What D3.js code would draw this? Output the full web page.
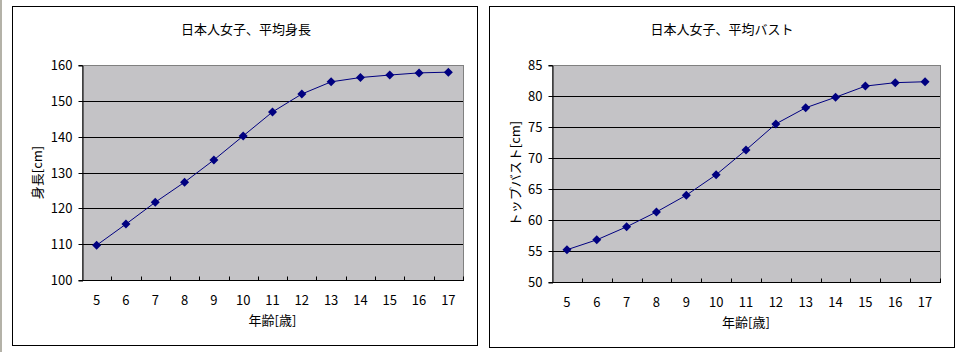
<!DOCTYPE html>
<html>
<head>
<meta charset="utf-8">
<script src="https://cdn.jsdelivr.net/npm/d3@7"></script>
<style>
  body { margin: 0; background: #fff; }
  svg text { font-family: "Noto Sans CJK JP", "Noto Sans", sans-serif; fill: #000; }
</style>
</head>
<body>
<div id="chart-container"></div>
<script>
// Chart data
const ages = ['5', '6', '7', '8', '9', '10', '11', '12', '13', '14', '15', '16', '17'];
const heightValues = [109.7, 115.6, 121.7, 127.3, 133.5, 140.2, 146.9, 151.9, 155.3, 156.5, 157.2, 157.8, 158.0];
const bustValues = [55.2, 56.8, 58.9, 61.3, 64.0, 67.3, 71.3, 75.5, 78.1, 79.8, 81.6, 82.15, 82.3];
const heightTicks = [100, 110, 120, 130, 140, 150, 160];
const bustTicks = [50, 55, 60, 65, 70, 75, 80, 85];

const svgWidth = 965;
const svgHeight = 352;

const svg = d3.select('#chart-container')
  .append('svg')
  .attr('width', svgWidth)
  .attr('height', svgHeight);

// thin gray strip at the left edge
svg.append('rect')
  .attr('x', 0).attr('y', 0)
  .attr('width', 2).attr('height', svgHeight)
  .attr('fill', '#b4b2a8');

// Draw one chart panel
function drawChart(opts) {
  const g = svg.append('g');

  // outer frame
  g.append('rect')
    .attr('x', opts.frame[0] + 0.5).attr('y', opts.frame[1] + 0.5)
    .attr('width', opts.frame[2]).attr('height', opts.frame[3])
    .attr('fill', '#fff').attr('stroke', '#000').attr('stroke-width', 1);

  const p = opts.plot; // [x, y, w, h]
  const xScale = d3.scaleBand().domain(ages).range([p[0], p[0] + p[2]]);
  const yScale = d3.scaleLinear().domain(opts.domain).range([p[1] + p[3], p[1]]);

  // plot area
  g.append('rect')
    .attr('x', p[0] + 0.5).attr('y', p[1] + 0.5)
    .attr('width', p[2]).attr('height', p[3])
    .attr('fill', '#c4c3c6').attr('stroke', '#808080');

  // horizontal gridlines
  g.selectAll('.grid')
    .data(opts.ticks.slice(1, -1))
    .enter()
    .append('line')
    .attr('x1', p[0]).attr('x2', p[0] + p[2])
    .attr('y1', d => Math.round(yScale(d)) + 0.5)
    .attr('y2', d => Math.round(yScale(d)) + 0.5)
    .attr('stroke', '#000');

  // Y axis
  const yAxis = g.append('g')
    .attr('transform', 'translate(' + (p[0] + 0.5) + ',0.5)')
    .call(d3.axisLeft(yScale).tickValues(opts.ticks).tickSize(4).tickPadding(6));
  yAxis.select('.domain').attr('stroke', '#000');
  yAxis.selectAll('line').attr('stroke', '#000');
  yAxis.selectAll('text').style('font-size', '13px').attr('dy', '0.35em');
  yAxis.selectAll('.tick').attr('transform', d => 'translate(0,' + Math.round(yScale(d)) + ')');

  // X axis (ticks at band boundaries, pointing up)
  const xBase = Math.round(p[1] + p[3]) + 0.5;
  g.append('line')
    .attr('x1', p[0]).attr('x2', p[0] + p[2] + 1)
    .attr('y1', xBase).attr('y2', xBase)
    .attr('stroke', '#000');
  g.selectAll('.xtick')
    .data(ages.slice(1).concat(['end']))
    .enter()
    .append('line')
    .attr('x1', (d, i) => Math.round(xScale(ages[i]) + xScale.bandwidth()) + 0.5)
    .attr('x2', (d, i) => Math.round(xScale(ages[i]) + xScale.bandwidth()) + 0.5)
    .attr('y1', xBase).attr('y2', xBase - 4)
    .attr('stroke', '#000');
  g.selectAll('.xlabel')
    .data(ages)
    .enter()
    .append('text')
    .attr('x', d => xScale(d) + xScale.bandwidth() / 2)
    .attr('y', xBase + 24)
    .attr('text-anchor', 'middle')
    .style('font-size', '13px')
    .text(d => d);

  // line + markers
  const pts = ages.map((a, i) => ({ a: a, v: opts.values[i] }));
  const line = d3.line()
    .x(d => xScale(d.a) + xScale.bandwidth() / 2)
    .y(d => yScale(d.v));
  g.append('path')
    .datum(pts)
    .attr('d', line)
    .attr('fill', 'none')
    .attr('stroke', '#000080')
    .attr('stroke-width', 1);
  g.selectAll('.marker')
    .data(pts)
    .enter()
    .append('path')
    .attr('d', 'M0,-4.5L4.5,0L0,4.5L-4.5,0Z')
    .attr('transform', d => 'translate(' + (xScale(d.a) + xScale.bandwidth() / 2) + ',' + yScale(d.v) + ')')
    .attr('fill', '#000080');

  // titles
  g.append('text')
    .attr('x', opts.titleX).attr('y', 34)
    .attr('text-anchor', 'middle')
    .style('font-size', '13px')
    .text(opts.title);
  g.append('text')
    .attr('x', p[0] + p[2] / 2).attr('y', xBase + 44)
    .attr('text-anchor', 'middle')
    .style('font-size', '13px')
    .text('年齢[歳]');
  g.append('text')
    .attr('transform', 'translate(' + opts.yTitleX + ',' + (p[1] + p[3] / 2) + ') rotate(-90)')
    .attr('text-anchor', 'middle')
    .style('font-size', '13px')
    .text(opts.yTitle);
}

drawChart({
  frame: [12, 6, 465, 339],
  plot: [82, 65, 381, 215],
  domain: [100, 160],
  ticks: heightTicks,
  values: heightValues,
  title: '日本人女子、平均身長',
  titleX: 246,
  yTitle: '身長[cm]',
  yTitleX: 42
});

drawChart({
  frame: [489, 6, 465, 341],
  plot: [552, 65, 388, 217],
  domain: [50, 85],
  ticks: bustTicks,
  values: bustValues,
  title: '日本人女子、平均バスト',
  titleX: 722,
  yTitle: 'トップバスト[cm]',
  yTitleX: 520
});
</script>
</body>
</html>
